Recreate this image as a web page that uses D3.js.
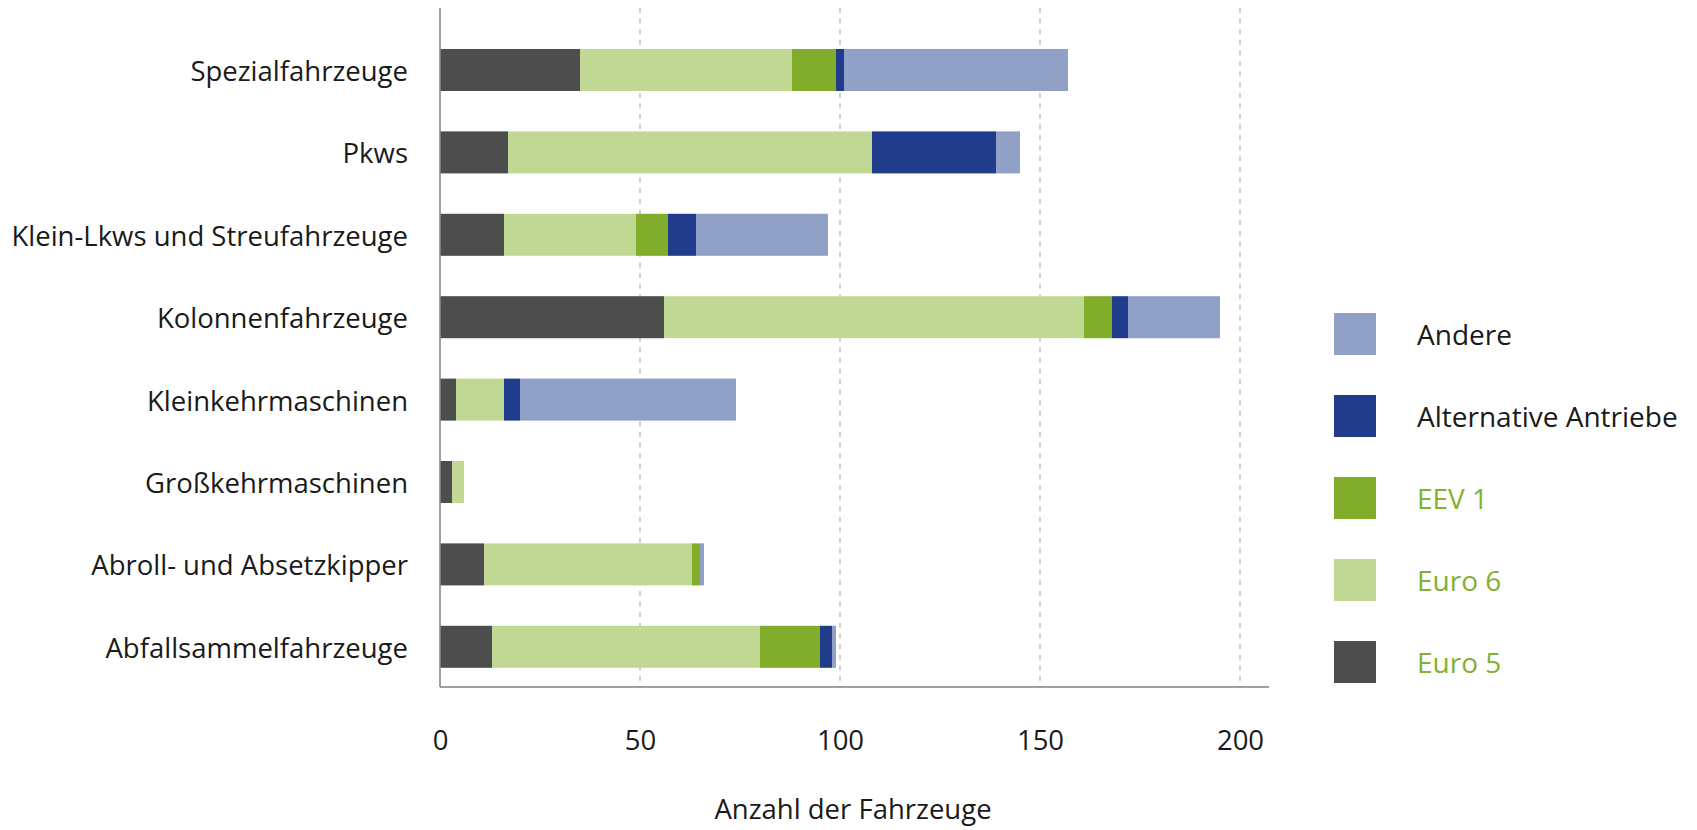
<!DOCTYPE html>
<html lang="de">
<head>
<meta charset="utf-8">
<title>Fahrzeuge nach Abgasnorm</title>
<script src="https://cdn.jsdelivr.net/npm/d3@7"></script>
<style>
  html, body { margin: 0; padding: 0; background: #ffffff; }
  svg { display: block; font-family: "Open Sans", "Noto Sans", sans-serif; }
</style>
</head>
<body>
<svg id="chart" width="1697" height="830"></svg>
<script>
// Fahrzeugkategorien (von oben nach unten)
const categories = [
  "Spezialfahrzeuge",
  "Pkws",
  "Klein-Lkws und Streufahrzeuge",
  "Kolonnenfahrzeuge",
  "Kleinkehrmaschinen",
  "Großkehrmaschinen",
  "Abroll- und Absetzkipper",
  "Abfallsammelfahrzeuge"
];

// Anzahl der Fahrzeuge je Antriebs-/Abgasklasse
const euro5       = [35, 17, 16, 56,  4, 3, 11, 13];
const euro6       = [53, 91, 33, 105, 12, 3, 52, 67];
const eev1        = [11,  0,  8,  7,  0, 0,  2, 15];
const alternative = [ 2, 31,  7,  4,  4, 0,  0,  3];
const andere      = [56,  6, 33, 23, 54, 0,  1,  1];

const seriesNames = ["Euro 5", "Euro 6", "EEV 1", "Alternative Antriebe", "Andere"];
const seriesValues = [euro5, euro6, eev1, alternative, andere];
const seriesColors = ["#4d4d4d", "#c1d895", "#82ad2b", "#213c8a", "#91a0c6"];
const legendTextColors = ["#82b031", "#82b031", "#82b031", "#1a1a1a", "#1a1a1a"];

const xTicks = [0, 50, 100, 150, 200];
const xTitle = "Anzahl der Fahrzeuge";

// Tabelle für d3.stack
const table = categories.map((c, i) => {
  const row = { category: c };
  seriesNames.forEach((s, k) => { row[s] = seriesValues[k][i]; });
  return row;
});

const svg = d3.select("#chart");
const fontSize = 27.5;
const legendFontSize = 28;

const x = d3.scaleLinear().domain([0, 200]).range([440, 1240]);
const y = d3.scaleBand()
  .domain(categories)
  .range([28.8, 688])
  .paddingInner(0.49)
  .paddingOuter(0.245);

const plotTop = 8, plotBottom = 687, axisRight = 1269;

// Gitternetzlinien (gestrichelt)
svg.append("g")
  .selectAll("line")
  .data(xTicks.filter(t => t > 0))
  .join("line")
  .attr("x1", d => x(d)).attr("x2", d => x(d))
  .attr("y1", plotTop).attr("y2", plotBottom)
  .attr("stroke", "#bdbdbd")
  .attr("stroke-width", 1.4)
  .attr("stroke-dasharray", "5,5.6");

// Gestapelte Balken
const stack = d3.stack().keys(seriesNames)(table);
svg.append("g")
  .selectAll("g")
  .data(stack)
  .join("g")
  .attr("fill", (d, k) => seriesColors[k])
  .selectAll("rect")
  .data(d => d)
  .join("rect")
  .attr("x", d => x(d[0]))
  .attr("width", d => x(d[1]) - x(d[0]))
  .attr("y", d => y(d.data.category))
  .attr("height", y.bandwidth());

// Achsenlinien
svg.append("line")
  .attr("x1", x(0)).attr("x2", x(0))
  .attr("y1", plotTop).attr("y2", plotBottom)
  .attr("stroke", "#8a8a8a").attr("stroke-width", 1.6);
svg.append("line")
  .attr("x1", x(0)).attr("x2", axisRight)
  .attr("y1", plotBottom).attr("y2", plotBottom)
  .attr("stroke", "#808080").attr("stroke-width", 1.6);

// Achsenbeschriftung x
const xAxis = d3.axisBottom(x).tickValues(xTicks).tickSize(0).tickPadding(0);
const gx = svg.append("g")
  .attr("transform", `translate(0,${plotBottom})`)
  .call(xAxis);
gx.select(".domain").remove();
gx.selectAll("text")
  .attr("dy", null)
  .attr("y", 63)
  .attr("fill", "#1a1a1a")
  .style("font-size", fontSize + "px")
  .style("font-family", "'Open Sans', 'Noto Sans', sans-serif");

// Kategorienbeschriftung y
const yAxis = d3.axisLeft(y).tickSize(0).tickPadding(0);
const gy = svg.append("g")
  .attr("transform", `translate(408,0)`)
  .call(yAxis);
gy.select(".domain").remove();
gy.selectAll("text")
  .attr("dy", null)
  .attr("x", 0)
  .attr("y", 11)
  .attr("text-anchor", "end")
  .attr("fill", "#1a1a1a")
  .style("font-size", fontSize + "px")
  .style("font-family", "'Open Sans', 'Noto Sans', sans-serif");

// Achsentitel
svg.append("text")
  .attr("x", 853).attr("y", 819)
  .attr("text-anchor", "middle")
  .attr("fill", "#1a1a1a")
  .style("font-size", fontSize + "px")
  .text(xTitle);

// Legende (umgekehrte Reihenfolge)
const legendOrder = [4, 3, 2, 1, 0];
const legend = svg.append("g");
legendOrder.forEach((k, j) => {
  const top = 313 + j * 82;
  legend.append("rect")
    .attr("x", 1334).attr("y", top)
    .attr("width", 42).attr("height", 42)
    .attr("fill", seriesColors[k]);
  legend.append("text")
    .attr("x", 1417).attr("y", top + 21 + 11)
    .attr("fill", legendTextColors[k])
    .style("font-size", legendFontSize + "px")
    .text(seriesNames[k]);
});
</script>
</body>
</html>
